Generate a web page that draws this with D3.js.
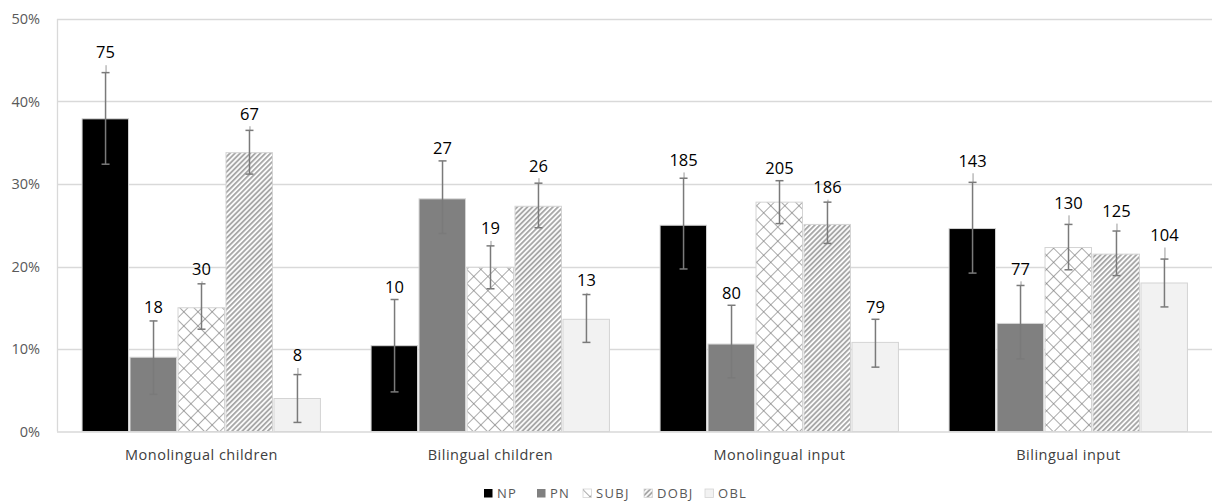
<!DOCTYPE html>
<html>
<head>
<meta charset="utf-8">
<script src="https://cdn.jsdelivr.net/npm/d3@7"></script>
<style>
  html, body { margin: 0; padding: 0; background: #fff; }
  svg { display: block; font-family: "Open Sans", Lato, sans-serif; }
</style>
</head>
<body>
<svg id="chart" width="1212" height="503"></svg>
<script>
// Groups and series
const groups = ["Monolingual children", "Bilingual children", "Monolingual input", "Bilingual input"];
const series = ["NP", "PN", "SUBJ", "DOBJ", "OBL"];

// Percentage per series (rows) and group (columns)
const pct = {
  NP:   [37.9, 10.4, 25.0, 24.6],
  PN:   [ 9.0, 28.2, 10.6, 13.1],
  SUBJ: [15.0, 19.9, 27.8, 22.3],
  DOBJ: [33.8, 27.3, 25.1, 21.5],
  OBL:  [ 4.0, 13.6, 10.8, 18.0]
};
// Confidence interval, lower and upper bounds (%)
const ciLow = {
  NP:   [32.4,  4.8, 19.7, 19.2],
  PN:   [ 4.5, 24.0,  6.5,  8.8],
  SUBJ: [12.4, 17.3, 25.2, 19.6],
  DOBJ: [31.2, 24.7, 22.8, 18.9],
  OBL:  [ 1.1, 10.8,  7.8, 15.1]
};
const ciHigh = {
  NP:   [43.5, 16.0, 30.7, 30.2],
  PN:   [13.4, 32.8, 15.3, 17.7],
  SUBJ: [17.9, 22.5, 30.4, 25.1],
  DOBJ: [36.5, 30.1, 27.8, 24.3],
  OBL:  [ 6.9, 16.6, 13.6, 20.9]
};
// Upper end of the secondary whisker (%)
const whiskerTop = {
  NP:   [44.4, 16.0, 31.4, 31.3],
  PN:   [13.5, 32.8, 15.3, 18.2],
  SUBJ: [18.2, 23.1, 30.4, 26.2],
  DOBJ: [37.0, 30.7, 28.1, 25.2],
  OBL:  [ 7.7, 16.8, 13.6, 22.3]
};
// Token counts shown above each bar
const counts = {
  NP:   [75, 10, 185, 143],
  PN:   [18, 27, 80, 77],
  SUBJ: [30, 19, 205, 130],
  DOBJ: [67, 26, 186, 125],
  OBL:  [8, 13, 79, 104]
};
const yTicks = [0, 10, 20, 30, 40, 50];

const svg = d3.select("#chart");
const margin = { left: 57, right: -1, top: 19, bottom: 71 };
const W = 1212, H = 503;
const FONT = "'Open Sans', Lato, sans-serif";

const x0 = d3.scaleBand().domain(groups)
  .range([margin.left, W - margin.right])
  .paddingInner(0.17).paddingOuter(0.085);
const x1 = d3.scaleBand().domain(series).range([0, x0.bandwidth()]);
const y = d3.scaleLinear().domain([0, 50]).range([H - margin.bottom - 0.5, margin.top]);

// Fill patterns
const defs = svg.append("defs");
const pSubj = defs.append("pattern").attr("id", "pat-subj")
  .attr("patternUnits", "userSpaceOnUse").attr("width", 10).attr("height", 10)
  .attr("patternTransform", "rotate(45)");
pSubj.append("rect").attr("width", 10).attr("height", 10).attr("fill", "#fff");
pSubj.append("line").attr("x1", 0).attr("y1", 0).attr("x2", 10).attr("y2", 0)
  .attr("stroke", "#7c7c7c").attr("stroke-width", 1.3);
pSubj.append("line").attr("x1", 0).attr("y1", 0).attr("x2", 0).attr("y2", 10)
  .attr("stroke", "#7c7c7c").attr("stroke-width", 1.3);

const pDobj = defs.append("pattern").attr("id", "pat-dobj")
  .attr("patternUnits", "userSpaceOnUse").attr("width", 3.6).attr("height", 10)
  .attr("patternTransform", "rotate(45)");
pDobj.append("rect").attr("width", 3.6).attr("height", 10).attr("fill", "#fff");
pDobj.append("rect").attr("width", 1.9).attr("height", 10).attr("fill", "#a8a8a8");

const fills = { NP: "#000000", PN: "#808080", SUBJ: "url(#pat-subj)", DOBJ: "url(#pat-dobj)", OBL: "#f2f2f2" };

// Gridlines and value axis
const grid = svg.append("g");
grid.selectAll("line").data(yTicks.filter(d => d > 0)).join("line")
  .attr("x1", margin.left).attr("x2", W)
  .attr("y1", d => Math.round(y(d)) + 0.5).attr("y2", d => Math.round(y(d)) + 0.5)
  .attr("stroke", "#d9d9d9").attr("stroke-width", 1.3);
svg.append("line").attr("x1", margin.left + 0.5).attr("x2", margin.left + 0.5)
  .attr("y1", y(50)).attr("y2", y(0))
  .attr("stroke", "#d9d9d9").attr("stroke-width", 1.3);

const yAxis = svg.append("g").attr("transform", `translate(${margin.left},0)`)
  .call(d3.axisLeft(y).tickValues(yTicks).tickFormat(d => d + "%").tickSize(0).tickPadding(17));
yAxis.select(".domain").remove();
yAxis.selectAll("text").attr("fill", "#595959").style("font-size", "14.5px")
  .style("font-family", FONT);

// Bars
const rows = [];
groups.forEach((g, gi) => series.forEach(s => rows.push({
  g, s, v: pct[s][gi], lo: ciLow[s][gi], hi: ciHigh[s][gi], top: whiskerTop[s][gi], n: counts[s][gi]
})));

const barG = svg.append("g");
barG.selectAll("rect").data(rows).join("rect")
  .attr("x", d => x0(d.g) + x1(d.s) + 0.5)
  .attr("width", x1.bandwidth() - 1.5)
  .attr("y", d => y(d.v))
  .attr("height", d => y(0) - y(d.v))
  .attr("fill", d => fills[d.s])
  .attr("stroke", "#d4d4d4").attr("stroke-width", 1);

// Baseline
svg.append("line").attr("x1", margin.left).attr("x2", W)
  .attr("y1", y(0) + 0.5).attr("y2", y(0) + 0.5)
  .attr("stroke", "#d9d9d9").attr("stroke-width", 1.6);

// Error bars
const cx = d => x0(d.g) + x1(d.s) + x1.bandwidth() / 2;
const err = svg.append("g").attr("stroke", "#7a7a7a").attr("fill", "none");
err.selectAll("line.whisk").data(rows).join("line").attr("class", "whisk")
  .attr("x1", d => cx(d) + 0.5).attr("x2", d => cx(d) + 0.5)
  .attr("y1", d => y(d.hi)).attr("y2", d => y(d.top))
  .attr("stroke", "#999").attr("stroke-width", 1);
err.selectAll("line.stem").data(rows).join("line").attr("class", "stem")
  .attr("x1", cx).attr("x2", cx)
  .attr("y1", d => y(d.lo)).attr("y2", d => y(d.hi))
  .attr("stroke-width", 1.5);
["lo", "hi"].forEach(k => {
  err.selectAll("line.cap-" + k).data(rows).join("line").attr("class", "cap-" + k)
    .attr("x1", d => cx(d) - 4).attr("x2", d => cx(d) + 4)
    .attr("y1", d => y(d[k])).attr("y2", d => y(d[k]))
    .attr("stroke-width", 1.5);
});

// Count labels
svg.append("g").selectAll("text").data(rows).join("text")
  .attr("x", cx).attr("y", d => y(d.top) - 12.5)
  .attr("dy", "0.35em").attr("text-anchor", "middle")
  .attr("fill", "#000").style("font-size", "16.5px")
  .text(d => d.n);

// Group labels
svg.append("g").selectAll("text").data(groups).join("text")
  .attr("x", d => x0(d) + x0.bandwidth() / 2).attr("y", 455)
  .attr("dy", "0.35em").attr("text-anchor", "middle")
  .attr("fill", "#404040").style("font-size", "14.5px").style("letter-spacing", "0.5px")
  .text(d => d);

// Legend
const legendX = [484, 537, 583, 644, 705];
const leg = svg.append("g");
series.forEach((s, i) => {
  const item = leg.append("g").attr("transform", `translate(${legendX[i]},489)`);
  item.append("rect").attr("width", 8.5).attr("height", 8.5)
    .attr("fill", fills[s]).attr("stroke", s === "NP" || s === "PN" ? "none" : "#d4d4d4").attr("stroke-width", 0.8);
  item.append("text").attr("x", 13).attr("y", 4.5).attr("dy", "0.35em")
    .attr("fill", "#595959").style("font-size", "13px").style("letter-spacing", "1.3px").text(s);
});
</script>
</body>
</html>
